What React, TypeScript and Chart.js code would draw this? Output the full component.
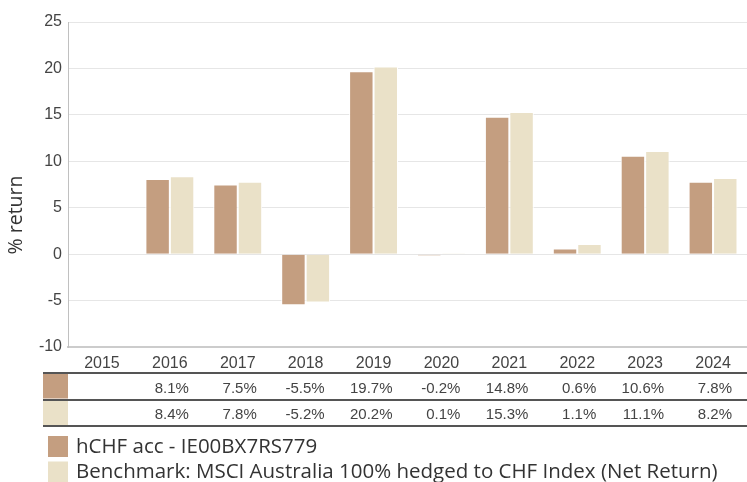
import React, { useEffect, useRef } from "react";
import { Chart, registerables } from "chart.js";

Chart.register(...registerables);

const categories = ["2015", "2016", "2017", "2018", "2019", "2020", "2021", "2022", "2023", "2024"];
const fundValues: (number | null)[] = [null, 8.1, 7.5, -5.5, 19.7, -0.2, 14.8, 0.6, 10.6, 7.8];
const benchValues: (number | null)[] = [null, 8.4, 7.8, -5.2, 20.2, 0.1, 15.3, 1.1, 11.1, 8.2];
const seriesNames = ["hCHF acc - IE00BX7RS779", "Benchmark: MSCI Australia 100% hedged to CHF Index (Net Return)"];
const yTitle = "% return";

const FUND_COLOR = "#c49e80";
const BENCH_COLOR = "#eae1c8";
const TICK_FONT = "'Liberation Sans', Arial, sans-serif";
const LEGEND_FONT = "'Open Sans', 'Noto Sans', sans-serif";

const fmt = (v: number | null) => (v === null ? "" : v.toFixed(1) + "%");

const extrasPlugin = {
  id: "extras",
  afterDraw(chart: any) {
    const ctx = chart.ctx as CanvasRenderingContext2D;
    const xs = chart.scales.x;
    const W = chart.width;
    const area = chart.chartArea;
    ctx.save();
    // Y title
    ctx.save();
    ctx.translate(16, 215);
    ctx.rotate(-Math.PI / 2);
    ctx.font = `19.5px ${LEGEND_FONT}`;
    ctx.fillStyle = "#333";
    ctx.textAlign = "center";
    ctx.textBaseline = "middle";
    ctx.fillText(yTitle, 0, 0);
    ctx.restore();

    // Table
    const tableTop = area.bottom + 26;
    const rowH = 26.5;
    const left = 43;
    const swatchW = area.left - left;
    const rows = [
      { color: FUND_COLOR, vals: fundValues },
      { color: BENCH_COLOR, vals: benchValues },
    ];
    rows.forEach((r, ri) => {
      const y0 = tableTop + ri * rowH;
      ctx.fillStyle = r.color;
      ctx.fillRect(left, y0 + 1, swatchW, rowH - 2);
      ctx.font = `15px ${TICK_FONT}`;
      ctx.fillStyle = "#444";
      ctx.textAlign = "right";
      ctx.textBaseline = "middle";
      r.vals.forEach((v, i) => {
        const cx = xs.getPixelForValue(i);
        ctx.fillText(fmt(v), cx + 19, y0 + rowH / 2 + 2.5);
      });
    });
    ctx.strokeStyle = "#555";
    ctx.lineWidth = 2;
    for (let k = 0; k <= rows.length; k++) {
      const y = Math.round(tableTop + k * rowH);
      ctx.beginPath();
      ctx.moveTo(left, y);
      ctx.lineTo(W, y);
      ctx.stroke();
    }

    // Legend
    const legTop = tableTop + rows.length * rowH + 10;
    const colors = [FUND_COLOR, BENCH_COLOR];
    seriesNames.forEach((name, i) => {
      const y0 = legTop + i * 25.5;
      ctx.fillStyle = colors[i];
      ctx.fillRect(48, y0, 20, 21);
      ctx.font = `20.5px ${LEGEND_FONT}`;
      ctx.fillStyle = "#333";
      ctx.textAlign = "left";
      ctx.textBaseline = "middle";
      ctx.fillText(name, 76, y0 + 11);
    });
    ctx.restore();
  },
};

export default function App() {
  const ref = useRef<HTMLCanvasElement | null>(null);
  useEffect(() => {
    document.body.style.margin = "0";
    const chart = new Chart(ref.current as HTMLCanvasElement, {
      type: "bar",
      data: {
        labels: categories,
        datasets: [
          {
            label: seriesNames[0],
            data: fundValues,
            backgroundColor: FUND_COLOR,
            borderColor: "#ffffff",
            borderWidth: 1,
            categoryPercentage: 0.72,
            barPercentage: 1,
          },
          {
            label: seriesNames[1],
            data: benchValues,
            backgroundColor: BENCH_COLOR,
            borderColor: "#ffffff",
            borderWidth: 1,
            categoryPercentage: 0.72,
            barPercentage: 1,
          },
        ],
      },
      options: {
        animation: false,
        responsive: false,
        maintainAspectRatio: false,
        layout: { padding: { top: 22, right: 0, bottom: 109, left: 0 } },
        plugins: { legend: { display: false }, tooltip: { enabled: false } },
        scales: {
          x: {
            grid: { display: false },
            border: { display: true, color: "#cccccc", width: 2 },
            ticks: { font: { family: TICK_FONT, size: 16 }, color: "#444", padding: -1, maxRotation: 0 },
            afterFit: (s: any) => {
              s.height = 26;
            },
          },
          y: {
            min: -10,
            max: 25,
            ticks: { stepSize: 5, font: { family: TICK_FONT, size: 16 }, color: "#444", padding: 6 },
            grid: { color: "#e6e6e6", drawTicks: false },
            border: { display: true, color: "#c0c0c0", width: 1 },
            afterFit: (s: any) => {
              s.width = 68;
            },
          },
        },
      },
      plugins: [extrasPlugin],
    });
    return () => chart.destroy();
  }, []);
  return (
    <div style={{ width: 747, height: 482 }}>
      <canvas ref={ref} width={747} height={482} style={{ display: "block" }} />
    </div>
  );
}
